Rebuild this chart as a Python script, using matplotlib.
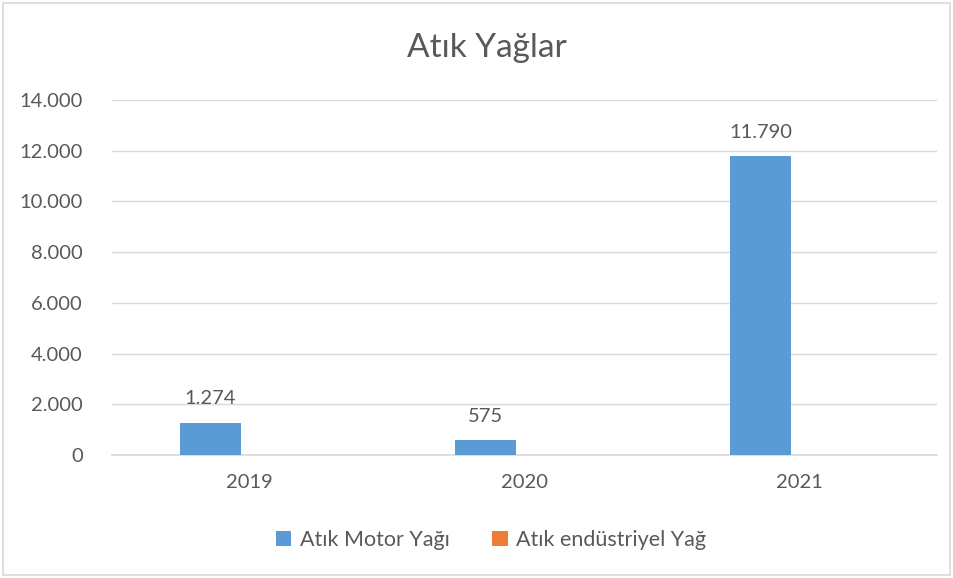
import matplotlib
matplotlib.use("Agg")
import matplotlib.pyplot as plt
import numpy as np
from matplotlib.patches import Rectangle
from matplotlib.ticker import FuncFormatter, MultipleLocator

years = ["2019", "2020", "2021"]
motor = [1274, 575, 11790]
endustriyel = [0, 0, 0]
series_names = ["Atık Motor Yağı", "Atık endüstriyel Yağ"]
title = "Atık Yağlar"

plt.rcParams['font.family'] = ['Lato', 'DejaVu Sans']
txt = '#595959'

fig = plt.figure(figsize=(9.54, 5.78), dpi=100)
fig.patches.append(Rectangle((3/954, 3/578), 947/954, 572/578, transform=fig.transFigure,
                             fill=False, edgecolor='#D9D9D9', linewidth=1.2))
ax = fig.add_axes([112/954, 123/578, 825/954, 355/578])

x = np.arange(len(years))
w = 0.222
off = 0.142
b1 = ax.bar(x - off, motor, w, color='#5B9BD5', label=series_names[0], zorder=3)
b2 = ax.bar(x + off, endustriyel, w, color='#ED7D31', label=series_names[1], zorder=3)

def fmt(v, pos=None):
    return f"{int(v):,}".replace(",", ".")

for rect, v in zip(b1, motor):
    ax.annotate(fmt(v), (rect.get_x() + rect.get_width()/2, v), xytext=(0, 11),
                textcoords='offset points', ha='center', va='bottom', fontsize=14.5, color=txt)

ax.set_xlim(-0.5, 2.5)
ax.set_ylim(0, 14000)
ax.yaxis.set_major_locator(MultipleLocator(2000))
ax.yaxis.set_major_formatter(FuncFormatter(fmt))
ax.set_xticks(x)
ax.set_xticklabels(years)
ax.grid(axis='y', color='#D9D9D9', linewidth=1, zorder=0)
for s in ['top', 'right', 'left']:
    ax.spines[s].set_visible(False)
ax.spines['bottom'].set_color('#D9D9D9')
ax.spines['bottom'].set_linewidth(1.2)
ax.tick_params(axis='both', length=0, labelsize=14.5, labelcolor=txt)
ax.tick_params(axis='y', pad=21)
ax.tick_params(axis='x', pad=14)

fig.text(487/954, 1 - 48/578, title, ha='center', va='center', fontsize=24, color=txt)

fig.legend(handles=[b1, b2], labels=series_names, loc='center', bbox_to_anchor=(491/954, 1 - 540/578),
           ncol=2, frameon=False, fontsize=15.5, labelcolor=txt, handlelength=0.7, handleheight=0.7,
           handletextpad=0.4, columnspacing=2.0)

fig.savefig("out.png", dpi=100)
